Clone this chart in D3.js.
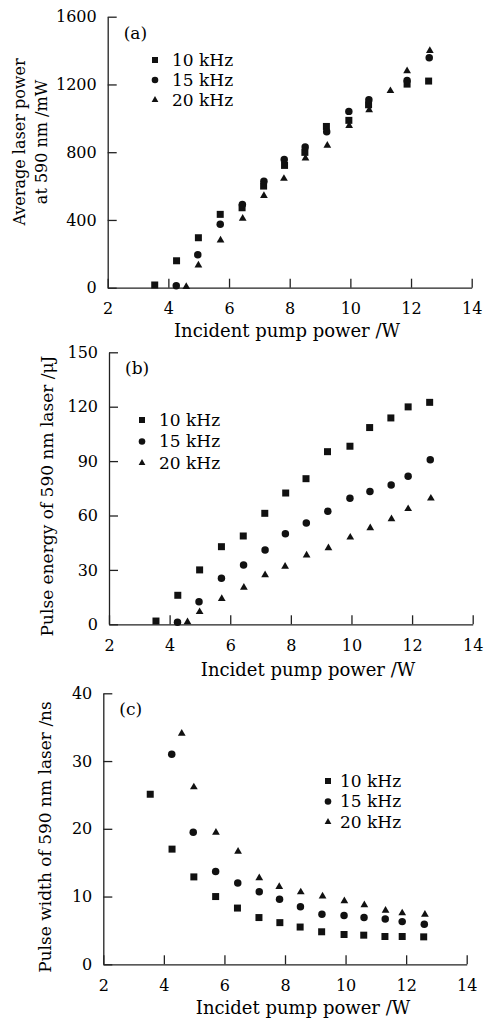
<!DOCTYPE html>
<html>
<head>
<meta charset="utf-8">
<script src="https://cdn.jsdelivr.net/npm/d3@7"></script>
<style>
  body { margin: 0; background: #fff; }
  svg { display: block; }
  text { font-family: "DejaVu Serif", serif; fill: #000; }
  .axis path, .axis line { stroke: #222; stroke-width: 1.3; }
  .axis text { font-size: 16px; }
</style>
</head>
<body>
<svg id="chart"></svg>
<script>
const width = 484;
const height = 1021;

// pump power (W) for each repetition rate
const pump10 = [3.55, 4.27, 4.99, 5.71, 6.43, 7.14, 7.83, 8.50, 9.21, 9.95, 10.60, 11.30, 11.87, 12.58];
const pump15 = [4.26, 4.97, 5.71, 6.44, 7.15, 7.82, 8.51, 9.22, 9.95, 10.61, 11.31, 11.87, 12.60];
const pump20 = [4.59, 4.99, 5.72, 6.45, 7.15, 7.81, 8.52, 9.24, 9.96, 10.62, 11.32, 11.87, 12.62];

// (a) average power, mW
const power10 = [16, 159, 295, 433, 472, 600, 722, 799, 952, 988, 1080, null, 1202, 1220];
const power15 = [12, 194, 374, 491, 628, 757, 831, 921, 1041, 1110, null, 1224, 1357];
const power20 = [12, 139, 286, 414, 549, 650, 770, 846, 962, 1055, 1168, 1285, 1405];

// (b) pulse energy, uJ
const energy10 = [1.8, 16.0, 30.0, 42.8, 48.7, 61.2, 72.4, 80.3, 95.2, 98.2, 108.5, 113.8, 119.9, 122.4];
const energy15 = [1.1, 12.5, 25.4, 32.7, 41.0, 50.0, 55.9, 62.3, 69.5, 73.2, 76.8, 81.6, 90.8];
const energy20 = [1.8, 7.4, 14.7, 20.8, 27.8, 32.4, 38.6, 42.6, 48.5, 53.7, 58.6, 64.2, 70.0];

// (c) pulse width, ns
const width10 = [25.1, 17.0, 12.9, 10.0, 8.3, 6.9, 6.15, 5.5, 4.8, 4.4, 4.3, 4.1, 4.1, 4.05];
const width15 = [31.0, 19.5, 13.7, 12.0, 10.7, 9.6, 8.5, 7.4, 7.2, 6.9, 6.7, 6.3, 5.9];
const width20 = [34.2, 26.3, 19.6, 16.8, 12.9, 11.6, 10.8, 10.2, 9.5, 8.9, 8.1, 7.7, 7.5];

const seriesNames = ['10 kHz', '15 kHz', '20 kHz'];
const xTicks = [2, 4, 6, 8, 10, 12, 14];
const yTicksA = [0, 400, 800, 1200, 1600];
const yTicksB = [0, 30, 60, 90, 120, 150];
const yTicksC = [0, 10, 20, 30, 40];

const svg = d3.select('#chart').attr('width', width).attr('height', height);

const symbols = [d3.symbolSquare, d3.symbolCircle, d3.symbolTriangle];
const symbolSizes = [49, 44, 26];
const legendSizes = [36, 34, 20];

const zip = (xs, ys) => xs.map((x, i) => ({ x, y: ys[i] })).filter(d => d.y != null);

const panels = [
  {
    tag: '(a)', left: 107.7, right: 471.7, top: 16.7, bottom: 287.7,
    yMax: 1600, yTicks: yTicksA,
    series: [zip(pump10, power10), zip(pump15, power15), zip(pump20, power20)],
    yLabel: ['Average laser power', 'at 590 nm /mW'], yLabelX: [19, 41], yLabelY: 142, yLabelSize: 16,
    xTitle: 'Incident pump power /W', xTitleX: 287, xTitleY: 337,
    legend: { mx: 155, tx: 172, y: 60, dy: 20 }
  },
  {
    tag: '(b)', left: 109, right: 472.7, top: 352.3, bottom: 624.3,
    yMax: 150, yTicks: yTicksB,
    series: [zip(pump10, energy10), zip(pump15, energy15), zip(pump20, energy20)],
    yLabel: ['Pulse energy of 590 nm laser /\u03bcJ'], yLabelX: [47], yLabelY: 496, yLabelSize: 17,
    xTitle: 'Incidet pump power /W', xTitleX: 308, xTitleY: 676,
    legend: { mx: 142, tx: 159, y: 420, dy: 21.5 }
  },
  {
    tag: '(c)', left: 103.3, right: 466.7, top: 693.3, bottom: 964.3,
    yMax: 40, yTicks: yTicksC,
    series: [zip(pump10, width10), zip(pump15, width15), zip(pump20, width20)],
    yLabel: ['Pulse width of 590 nm laser /ns'], yLabelX: [45], yLabelY: 837, yLabelSize: 17,
    xTitle: 'Incidet pump power /W', xTitleX: 303, xTitleY: 1014,
    legend: { mx: 328, tx: 340, y: 781, dy: 20.5 }
  }
];

panels.forEach(p => {
  const x = d3.scaleLinear().domain([2, 14]).range([p.left, p.right]);
  const y = d3.scaleLinear().domain([0, p.yMax]).range([p.bottom, p.top]);
  const g = svg.append('g');

  g.append('g')
    .classed('axis', true)
    .attr('transform', `translate(0, ${p.bottom})`)
    .call(d3.axisBottom(x).tickValues(xTicks).tickFormat(d3.format('d'))
      .tickSizeInner(-9).tickSizeOuter(0).tickPadding(15));

  g.append('g')
    .classed('axis', true)
    .attr('transform', `translate(${p.left}, 0)`)
    .call(d3.axisLeft(y).tickValues(p.yTicks).tickFormat(d3.format('d'))
      .tickSizeInner(-9).tickSizeOuter(0).tickPadding(11));

  svg.selectAll('.axis').attr('font-family', null).attr('font-size', null);

  // y label (rotated)
  p.yLabel.forEach((t, i) => {
    g.append('text')
      .attr('transform', `translate(${p.yLabelX[i]}, ${p.yLabelY}) rotate(-90)`)
      .attr('text-anchor', 'middle')
      .attr('dy', '0.35em')
      .style('font-size', p.yLabelSize + 'px')
      .text(t);
  });

  g.append('text')
    .attr('x', p.xTitleX)
    .attr('y', p.xTitleY)
    .attr('text-anchor', 'middle')
    .style('font-size', '18px')
    .text(p.xTitle);

  g.append('text')
    .attr('x', p.left + 16)
    .attr('y', p.top + 22)
    .style('font-size', '17px')
    .text(p.tag);

  // data points
  p.series.forEach((pts, si) => {
    g.selectAll(null)
      .data(pts)
      .enter()
      .append('path')
      .attr('d', d3.symbol().type(symbols[si]).size(symbolSizes[si]))
      .attr('transform', d => `translate(${x(d.x)}, ${y(d.y) + (si === 2 ? 1 : 0)})`)
      .attr('fill', '#111');
  });

  // legend
  seriesNames.forEach((name, si) => {
    const ly = p.legend.y + si * p.legend.dy;
    g.append('path')
      .attr('d', d3.symbol().type(symbols[si]).size(legendSizes[si]))
      .attr('transform', `translate(${p.legend.mx}, ${ly})`)
      .attr('fill', '#111');
    g.append('text')
      .attr('x', p.legend.tx)
      .attr('y', ly)
      .attr('dy', '0.35em')
      .style('font-size', '17px')
      .text(name);
  });
});
</script>
</body>
</html>
